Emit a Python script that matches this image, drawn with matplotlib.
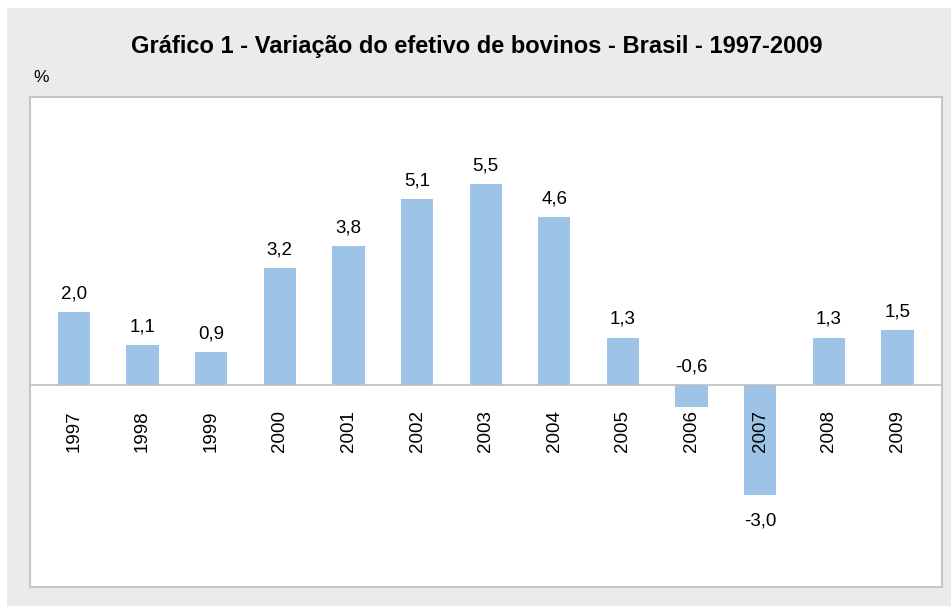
import matplotlib.pyplot as plt

plt.rcParams['font.family'] = ['Liberation Sans', 'DejaVu Sans']

anos = ['1997', '1998', '1999', '2000', '2001', '2002', '2003',
        '2004', '2005', '2006', '2007', '2008', '2009']
variacao = [2.0, 1.1, 0.9, 3.2, 3.8, 5.1, 5.5, 4.6, 1.3, -0.6, -3.0, 1.3, 1.5]
rotulos = ['2,0', '1,1', '0,9', '3,2', '3,8', '5,1', '5,5',
           '4,6', '1,3', '-0,6', '-3,0', '1,3', '1,5']

fig = plt.figure(figsize=(9.51, 6.06), dpi=100)
fig.patch.set_facecolor('white')
# gray panel behind the chart
fig.patches.append(plt.Rectangle((7 / 951, 0), 1, 1 - 8 / 606, transform=fig.transFigure,
                                 facecolor='#ebebeb', edgecolor='none', zorder=-10))

ax = fig.add_axes([30 / 951, 1 - 587 / 606, 912 / 951, 490 / 606])
ax.set_facecolor('white')
x = list(range(len(anos)))
ax.bar(x, variacao, width=0.47, color='#9dc3e6', zorder=2)
ax.axhline(0, color='#bfbfbf', linewidth=1.2, zorder=3)
ax.set_xlim(-0.64, 12.65)
ax.set_ylim(-5.53, 7.89)
ax.set_xticks([])
ax.set_yticks([])
for s in ax.spines.values():
    s.set_color('#c6c6c6')
    s.set_linewidth(1.5)

for i, v in enumerate(variacao):
    if v >= 0:
        ax.annotate(rotulos[i], (i, v), xytext=(0, 7), textcoords='offset points',
                    ha='center', va='bottom', fontsize=13.5)
    elif v > -1:
        ax.annotate(rotulos[i], (i, 0), xytext=(0, 7), textcoords='offset points',
                    ha='center', va='bottom', fontsize=13.5)
    else:
        ax.annotate(rotulos[i], (i, v), xytext=(0, -13), textcoords='offset points',
                    ha='center', va='top', fontsize=13.5)
    ax.annotate(anos[i], (i, 0), xytext=(0, -18), textcoords='offset points',
                ha='center', va='top', rotation=90, fontsize=13.5)

fig.text(477 / 951, 1 - 46 / 606, 'Gráfico 1 - Variação do efetivo de bovinos - Brasil - 1997-2009',
         ha='center', va='center', fontsize=17, fontweight='bold')
fig.text(33 / 951, 1 - 78 / 606, '%', ha='left', va='center', fontsize=12.5)

fig.savefig('out.png', dpi=100)
